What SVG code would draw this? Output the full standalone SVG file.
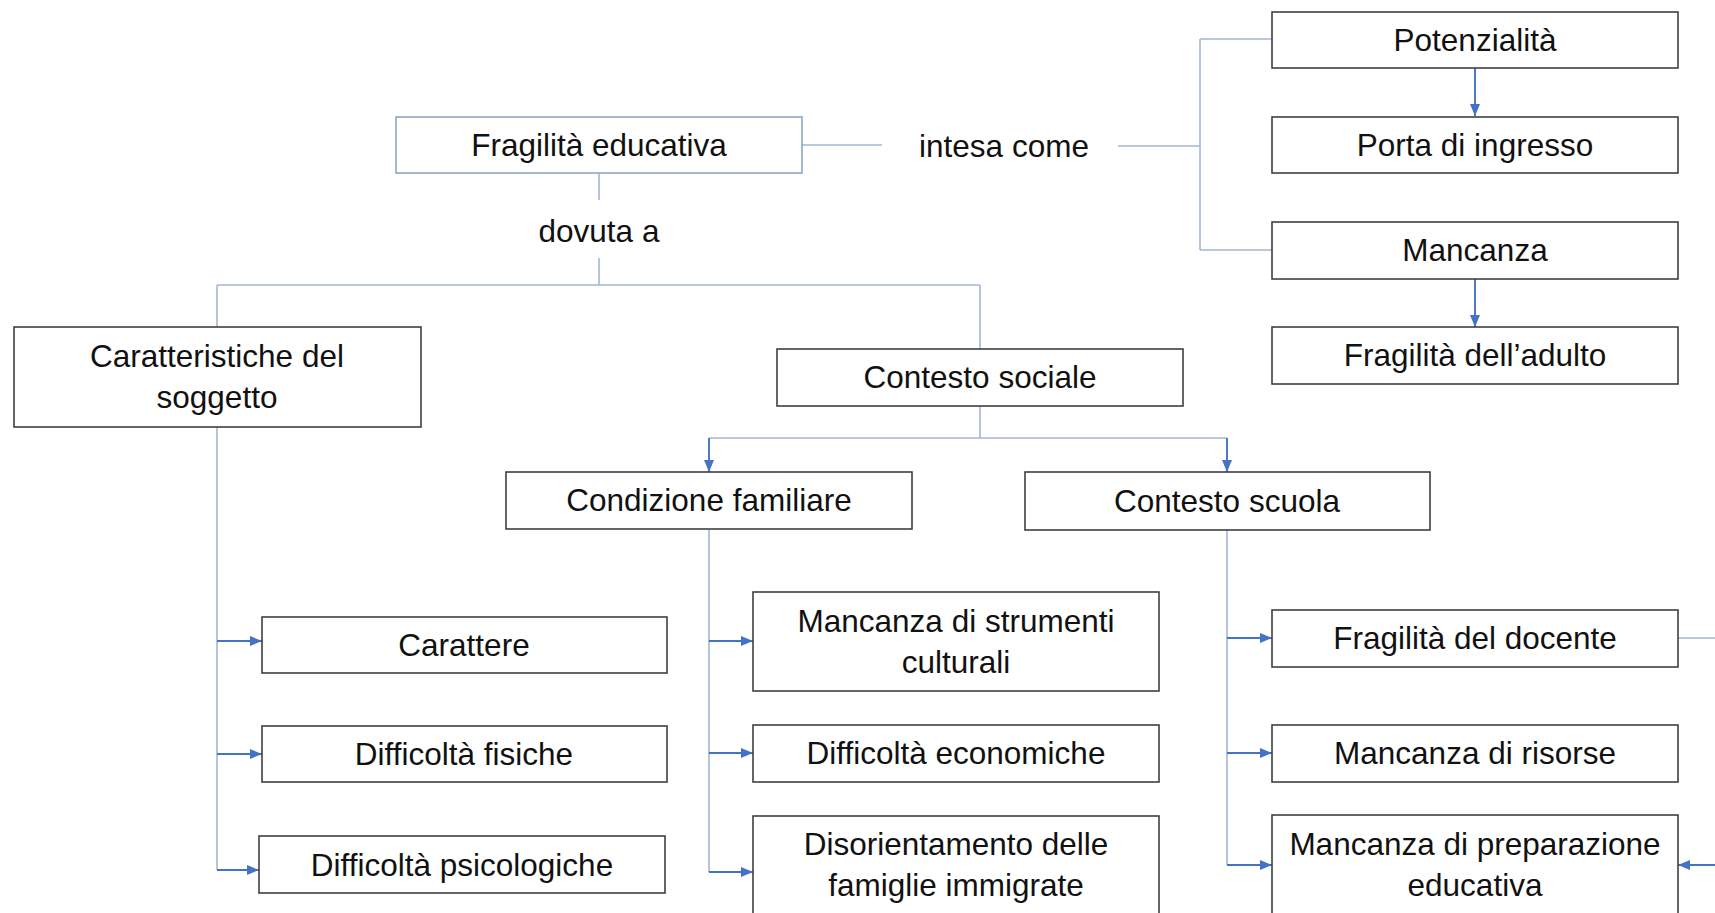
<svg xmlns="http://www.w3.org/2000/svg" width="1715" height="913" viewBox="0 0 1715 913">
<style>
.box{fill:#fff;stroke:#404040;stroke-width:1.6}
.boxb{fill:#fff;stroke:#8EA5C9;stroke-width:1.6}
.t{font-family:"Liberation Sans",Arial,sans-serif;font-size:31.5px;fill:#111;text-anchor:middle}
.ln{fill:none;stroke:#A3B7D6;stroke-width:1.6}
.ar{fill:none;stroke:#4472C4;stroke-width:1.9;marker-end:url(#ah)}
</style>
<defs>
<marker id="ah" markerWidth="12" markerHeight="10" refX="12" refY="5" orient="auto" markerUnits="userSpaceOnUse">
<path d="M0,0 L12,5 L0,10 Z" fill="#4472C4"/>
</marker>
</defs>
<rect width="1715" height="913" fill="#fff"/>
<g id="connectors">
<path class="ln" d="M802,145 H882"/>
<path class="ln" d="M1118,146 H1200 M1200,39 V250 M1200,39 H1272 M1200,250 H1272"/>
<path class="ar" d="M1475,68 V116"/>
<path class="ar" d="M1475,279 V327"/>
<path class="ln" d="M599,173 V200 M599,258 V285 M217,285 H980 M217,285 V327 M980,285 V349"/>
<path class="ln" d="M980,406 V438 M709,438 H1227"/>
<path class="ar" d="M709,438 V472"/>
<path class="ar" d="M1227,438 V472"/>
<path class="ln" d="M217,427 V870"/>
<path class="ar" d="M217,641 H262"/>
<path class="ar" d="M217,754 H262"/>
<path class="ar" d="M217,870 H259"/>
<path class="ln" d="M709,530 V872"/>
<path class="ar" d="M709,641 H753"/>
<path class="ar" d="M709,753 H753"/>
<path class="ar" d="M709,872 H753"/>
<path class="ln" d="M1227,530 V865"/>
<path class="ar" d="M1227,638 H1272"/>
<path class="ar" d="M1227,753 H1272"/>
<path class="ar" d="M1227,865 H1272"/>
<path class="ln" d="M1678,638 H1715"/>
<path class="ar" d="M1715,865 H1678"/>
</g>
<g id="label-intesa"><text class="t" x="1004" y="157">intesa come</text></g>
<g id="label-dovuta"><text class="t" x="599" y="242">dovuta a</text></g>
<g id="n-fragilita"><rect class="boxb" x="396" y="117" width="406" height="56"/><text class="t" x="599" y="156">Fragilità educativa</text></g>
<g id="n-potenzialita"><rect class="box" x="1272" y="12" width="406" height="56"/><text class="t" x="1475" y="51">Potenzialità</text></g>
<g id="n-porta"><rect class="box" x="1272" y="117" width="406" height="56"/><text class="t" x="1475" y="156">Porta di ingresso</text></g>
<g id="n-mancanza"><rect class="box" x="1272" y="222" width="406" height="57"/><text class="t" x="1475" y="261">Mancanza</text></g>
<g id="n-adulto"><rect class="box" x="1272" y="327" width="406" height="57"/><text class="t" x="1475" y="366">Fragilità dell’adulto</text></g>
<g id="n-caratteristiche"><rect class="box" x="14" y="327" width="407" height="100"/><text class="t" x="217" y="367">Caratteristiche del</text><text class="t" x="217" y="408">soggetto</text></g>
<g id="n-contesto-sociale"><rect class="box" x="777" y="349" width="406" height="57"/><text class="t" x="980" y="388">Contesto sociale</text></g>
<g id="n-condizione"><rect class="box" x="506" y="472" width="406" height="57"/><text class="t" x="709" y="511">Condizione familiare</text></g>
<g id="n-scuola"><rect class="box" x="1025" y="472" width="405" height="58"/><text class="t" x="1227" y="512">Contesto scuola</text></g>
<g id="n-carattere"><rect class="box" x="262" y="617" width="405" height="56"/><text class="t" x="464" y="656">Carattere</text></g>
<g id="n-fisiche"><rect class="box" x="262" y="726" width="405" height="56"/><text class="t" x="464" y="765">Difficoltà fisiche</text></g>
<g id="n-psicologiche"><rect class="box" x="259" y="836" width="406" height="57"/><text class="t" x="462" y="876">Difficoltà psicologiche</text></g>
<g id="n-strumenti"><rect class="box" x="753" y="592" width="406" height="99"/><text class="t" x="956" y="632">Mancanza di strumenti</text><text class="t" x="956" y="673">culturali</text></g>
<g id="n-economiche"><rect class="box" x="753" y="725" width="406" height="57"/><text class="t" x="956" y="764">Difficoltà economiche</text></g>
<g id="n-disorientamento"><rect class="box" x="753" y="816" width="406" height="100"/><text class="t" x="956" y="855">Disorientamento delle</text><text class="t" x="956" y="896">famiglie immigrate</text></g>
<g id="n-docente"><rect class="box" x="1272" y="610" width="406" height="57"/><text class="t" x="1475" y="649">Fragilità del docente</text></g>
<g id="n-risorse"><rect class="box" x="1272" y="725" width="406" height="57"/><text class="t" x="1475" y="764">Mancanza di risorse</text></g>
<g id="n-preparazione"><rect class="box" x="1272" y="815" width="406" height="100"/><text class="t" x="1475" y="855">Mancanza di preparazione</text><text class="t" x="1475" y="896">educativa</text></g>
</svg>
